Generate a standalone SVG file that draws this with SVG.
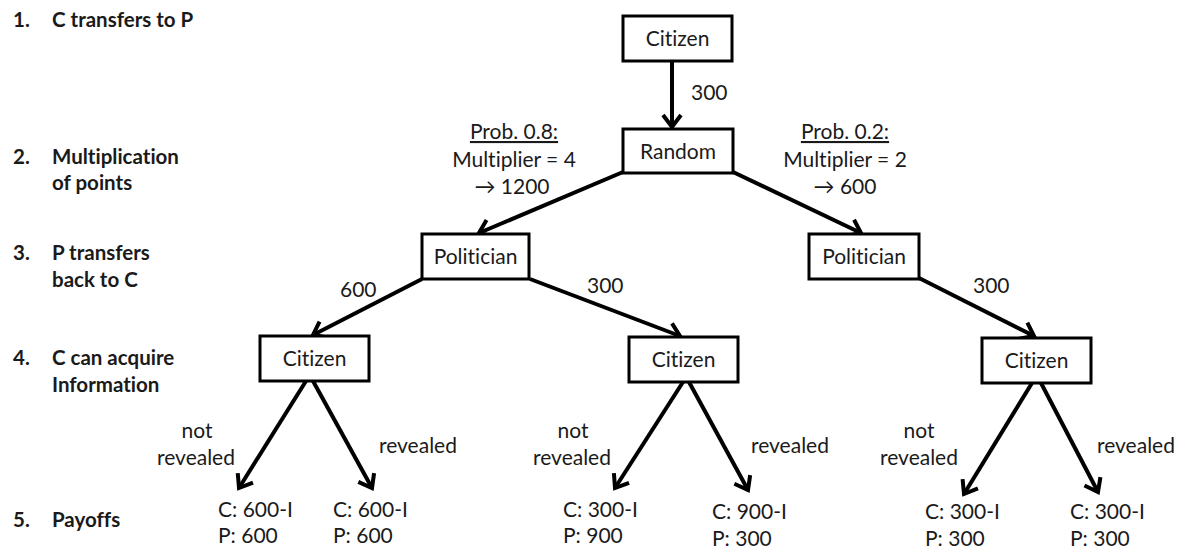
<svg xmlns="http://www.w3.org/2000/svg" width="1186" height="552" viewBox="0 0 1186 552">
<style>
  text { font-family: Lato, "DejaVu Sans", sans-serif; font-size: 21px; fill: #1a1a1a; font-variant-ligatures: none; }
  .step { font-weight: bold; font-size: 20.5px; }
  .c { text-anchor: middle; }
  .box rect { fill: #fff; stroke: #000; stroke-width: 3; }
  .conn line { stroke: #000; stroke-width: 4; marker-end: url(#ah); }
</style>
<defs>
  <marker id="ah" markerUnits="userSpaceOnUse" markerWidth="22" markerHeight="22" viewBox="0 0 22 22" refX="17" refY="11" orient="auto">
    <path d="M5,2 L17,11 L5,20" fill="none" stroke="#000" stroke-width="4" stroke-linejoin="miter"/>
  </marker>
</defs>
<rect width="1186" height="552" fill="#fff"/>

<g id="steps">
  <text class="step" x="13" y="27">1.</text><text class="step" x="52" y="27">C transfers to P</text>
  <text class="step" x="13" y="164">2.</text><text class="step" x="52" y="164">Multiplication</text>
  <text class="step" x="52" y="190">of points</text>
  <text class="step" x="13" y="260">3.</text><text class="step" x="52" y="260">P transfers</text>
  <text class="step" x="52" y="287">back to C</text>
  <text class="step" x="13" y="365">4.</text><text class="step" x="52" y="365">C can acquire</text>
  <text class="step" x="52" y="392">Information</text>
  <text class="step" x="13" y="527">5.</text><text class="step" x="52" y="527">Payoffs</text>
</g>

<g id="connectors" class="conn">
  <line x1="672" y1="62" x2="672" y2="127"/>
  <line x1="623" y1="172" x2="479" y2="233"/>
  <line x1="733" y1="172" x2="861" y2="233"/>
  <line x1="422" y1="279" x2="313" y2="335"/>
  <line x1="530" y1="279" x2="680" y2="336"/>
  <line x1="919" y1="278" x2="1034" y2="336"/>
  <line x1="306" y1="381" x2="239" y2="488"/>
  <line x1="313" y1="381" x2="372" y2="488"/>
  <line x1="683" y1="382" x2="615" y2="488"/>
  <line x1="689" y1="382" x2="748" y2="490"/>
  <line x1="1032" y1="383" x2="964" y2="494"/>
  <line x1="1041" y1="383" x2="1098" y2="492"/>
</g>

<g id="edge-labels">
  <text x="691" y="100">300</text>
  <text class="c" x="514" y="139" text-decoration="underline">Prob. 0.8:</text>
  <text class="c" x="514" y="167">Multiplier = 4</text>
  <text class="c" x="512" y="194">→ 1200</text>
  <text class="c" x="845" y="139" text-decoration="underline">Prob. 0.2:</text>
  <text class="c" x="845" y="167">Multiplier = 2</text>
  <text class="c" x="845" y="194">→ 600</text>
  <text x="340" y="297">600</text>
  <text x="587" y="293">300</text>
  <text x="973" y="293">300</text>
  <text class="c" x="197" y="438">not</text>
  <text class="c" x="196" y="465">revealed</text>
  <text x="379" y="453">revealed</text>
  <text class="c" x="573" y="438">not</text>
  <text class="c" x="572" y="465">revealed</text>
  <text x="751" y="453">revealed</text>
  <text class="c" x="919" y="438">not</text>
  <text class="c" x="919" y="465">revealed</text>
  <text x="1097" y="453">revealed</text>
</g>

<g id="payoffs">
  <text x="218" y="517">C: 600-I</text><text x="218" y="543">P: 600</text>
  <text x="333" y="517">C: 600-I</text><text x="333" y="543">P: 600</text>
  <text x="563" y="517">C: 300-I</text><text x="563" y="543">P: 900</text>
  <text x="712" y="519">C: 900-I</text><text x="712" y="546">P: 300</text>
  <text x="925" y="519">C: 300-I</text><text x="925" y="546">P: 300</text>
  <text x="1070" y="519">C: 300-I</text><text x="1070" y="546">P: 300</text>
</g>

<g id="node-citizen-top" class="box"><rect x="623" y="16" width="109" height="45"/><text class="c" x="677.5" y="46">Citizen</text></g>
<g id="node-random" class="box"><rect x="623" y="129" width="110" height="44"/><text class="c" x="678" y="159">Random</text></g>
<g id="node-politician-left" class="box"><rect x="422" y="234" width="107" height="45"/><text class="c" x="475.5" y="264">Politician</text></g>
<g id="node-politician-right" class="box"><rect x="809" y="234" width="110" height="45"/><text class="c" x="864" y="264">Politician</text></g>
<g id="node-citizen-left" class="box"><rect x="260" y="336" width="109" height="45"/><text class="c" x="314.5" y="366">Citizen</text></g>
<g id="node-citizen-mid" class="box"><rect x="629" y="337" width="109" height="45"/><text class="c" x="683.5" y="367">Citizen</text></g>
<g id="node-citizen-right" class="box"><rect x="982" y="338" width="109" height="45"/><text class="c" x="1036.5" y="368">Citizen</text></g>
</svg>
